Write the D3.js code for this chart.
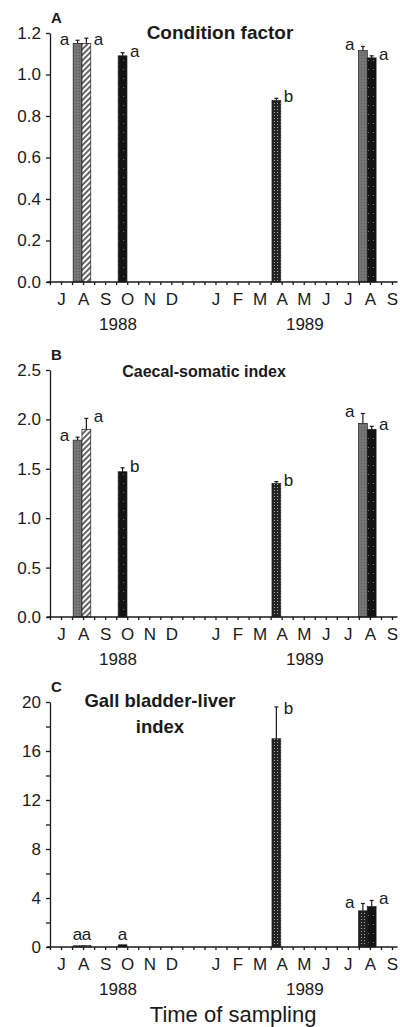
<!DOCTYPE html>
<html>
<head>
<meta charset="utf-8">
<script src="https://cdn.jsdelivr.net/npm/d3@7"></script>
<style>
  body { margin: 0; background: #fff; }
  svg { display: block; font-family: "Liberation Sans", Arial, sans-serif; }
  .axis path, .axis line { stroke: #1a1a1a; stroke-width: 1.3; }
  .axis text { fill: #1a1a1a; font-size: 17px; }
</style>
</head>
<body>
<script>
// Seasonal indices of fish, three stacked panels sharing a month axis.
// Month axis runs Jul 1988 .. Sep 1989 with one empty slot after December.

const MONTHS = ["J", "A", "S", "O", "N", "D", "", "J", "F", "M", "A", "M", "J", "J", "A", "S"];
const YEARS = [{ label: "1988", at: 2.58 }, { label: "1989", at: 11.05 }];

// sampling dates as positions on the month axis
const SAMPLES = { aug88: 0.95, oct88: 2.79, apr89: 9.76, aug89: 13.88 };

// fill: gray = stippled grey, hatch = striped, black = solid, dots = dark stipple
const conditionFactor = [
  { sample: "aug88", fill: "gray", value: 1.15, se: 0.015, letter: "a" },
  { sample: "aug88", fill: "hatch", value: 1.15, se: 0.025, letter: "a" },
  { sample: "oct88", fill: "black", value: 1.09, se: 0.015, letter: "a" },
  { sample: "apr89", fill: "dots", value: 0.875, se: 0.01, letter: "b" },
  { sample: "aug89", fill: "gray", value: 1.115, se: 0.02, letter: "a" },
  { sample: "aug89", fill: "black", value: 1.08, se: 0.01, letter: "a" },
];

const caecalSomatic = [
  { sample: "aug88", fill: "gray", value: 1.79, se: 0.03, letter: "a" },
  { sample: "aug88", fill: "hatch", value: 1.9, se: 0.11, letter: "a" },
  { sample: "oct88", fill: "black", value: 1.47, se: 0.04, letter: "b" },
  { sample: "apr89", fill: "dots", value: 1.35, se: 0.02, letter: "b" },
  { sample: "aug89", fill: "gray", value: 1.96, se: 0.1, letter: "a" },
  { sample: "aug89", fill: "black", value: 1.9, se: 0.03, letter: "a" },
];

const gallBladderLiver = [
  { sample: "aug88", fill: "gray", value: 0.1, se: 0.02, letter: "a" },
  { sample: "aug88", fill: "hatch", value: 0.12, se: 0.02, letter: "a" },
  { sample: "oct88", fill: "black", value: 0.18, se: 0.03, letter: "a" },
  { sample: "apr89", fill: "dots", value: 17.0, se: 2.6, letter: "b" },
  { sample: "aug89", fill: "dots", value: 2.95, se: 0.6, letter: "a" },
  { sample: "aug89", fill: "black", value: 3.3, se: 0.5, letter: "a" },
];

const PANELS = [
  { tag: "A", title: ["Condition factor"], data: conditionFactor, max: 1.2,
    ticks: [0, 0.2, 0.4, 0.6, 0.8, 1.0, 1.2], minor: [], fmt: ".1f" },
  { tag: "B", title: ["Caecal-somatic index"], data: caecalSomatic, max: 2.5,
    ticks: [0, 0.5, 1.0, 1.5, 2.0, 2.5], minor: [], fmt: ".1f" },
  { tag: "C", title: ["Gall bladder-liver", "index"], data: gallBladderLiver, max: 20,
    ticks: [0, 4, 8, 12, 16, 20], minor: [2, 6, 10, 14, 18], fmt: "d" },
];

// layout
const WIDTH = 400, HEIGHT = 1027;
const AXIS_X = 50;
const PANEL_Y = [[282, 33], [617, 370], [947, 702]]; // [baseline, top] per panel
const TITLE_STYLE = [
  { x: 220, dy: 6, size: 19 },
  { x: 204, dy: 7, size: 16 },
  { x: 160, dy: 5, size: 18.5, lead: 26 },
];
const BAR_W = 8.8;

const svg = d3.select("body").append("svg")
  .attr("width", WIDTH).attr("height", HEIGHT);

const defs = svg.append("defs");

const pGray = defs.append("pattern").attr("id", "fill-gray")
  .attr("patternUnits", "userSpaceOnUse").attr("width", 3).attr("height", 3);
pGray.append("rect").attr("width", 3).attr("height", 3).attr("fill", "#767676");
pGray.append("rect").attr("x", 1).attr("y", 1).attr("width", 1).attr("height", 1).attr("fill", "#555");

const pHatch = defs.append("pattern").attr("id", "fill-hatch")
  .attr("patternUnits", "userSpaceOnUse").attr("width", 4).attr("height", 4)
  .attr("patternTransform", "rotate(45)");
pHatch.append("rect").attr("width", 4).attr("height", 4).attr("fill", "#fff");
pHatch.append("line").attr("x1", 1).attr("x2", 1).attr("y1", 0).attr("y2", 4)
  .attr("stroke", "#555").attr("stroke-width", 1.8);

const pBlack = defs.append("pattern").attr("id", "fill-black")
  .attr("patternUnits", "userSpaceOnUse").attr("width", 5).attr("height", 9);
pBlack.append("rect").attr("width", 5).attr("height", 9).attr("fill", "#141414");
pBlack.append("rect").attr("x", 3).attr("y", 6).attr("width", 1).attr("height", 1).attr("fill", "#777");

const pDots = defs.append("pattern").attr("id", "fill-dots")
  .attr("patternUnits", "userSpaceOnUse").attr("width", 3).attr("height", 3);
pDots.append("rect").attr("width", 3).attr("height", 3).attr("fill", "#222");
pDots.append("rect").attr("x", 1).attr("y", 1).attr("width", 1).attr("height", 1).attr("fill", "#aaa");

const x = d3.scaleLinear().domain([0, 15]).range([61, 392]);

PANELS.forEach((panel, i) => {
  const [base, top] = PANEL_Y[i];
  const y = d3.scaleLinear().domain([0, panel.max]).range([base, top]);
  const g = svg.append("g");

  // bars
  const bySample = d3.group(panel.data, (d) => d.sample);
  const bars = [];
  bySample.forEach((rows, key) => {
    const center = x(SAMPLES[key]);
    const start = center - (rows.length * BAR_W) / 2;
    rows.forEach((d, j) => {
      let side = "right";
      if (rows.length > 1 && j === 0) side = "left";
      if (d.value < panel.max * 0.05) side = "top";
      bars.push({ ...d, x0: start + j * BAR_W, side });
    });
  });

  g.selectAll("rect.bar").data(bars).join("rect")
    .attr("class", "bar")
    .attr("x", (d) => d.x0)
    .attr("width", BAR_W)
    .attr("y", (d) => y(d.value))
    .attr("height", (d) => base - y(d.value))
    .attr("fill", (d) => `url(#fill-${d.fill})`)
    .attr("stroke", "#1a1a1a")
    .attr("stroke-width", 0.7);

  // error bars
  const err = g.selectAll("g.err").data(bars.filter((d) => d.value > panel.max * 0.05)).join("g").attr("class", "err");
  err.append("line")
    .attr("x1", (d) => d.x0 + BAR_W / 2).attr("x2", (d) => d.x0 + BAR_W / 2)
    .attr("y1", (d) => y(d.value)).attr("y2", (d) => y(d.value + d.se))
    .attr("stroke", "#1a1a1a").attr("stroke-width", 1.2);
  err.append("line")
    .attr("x1", (d) => d.x0 + BAR_W / 2 - 2).attr("x2", (d) => d.x0 + BAR_W / 2 + 2)
    .attr("y1", (d) => y(d.value + d.se)).attr("y2", (d) => y(d.value + d.se))
    .attr("stroke", "#1a1a1a").attr("stroke-width", 1.2);

  // significance letters
  g.selectAll("text.letter").data(bars).join("text")
    .attr("class", "letter")
    .attr("font-size", 17)
    .attr("fill", "#1a1a1a")
    .attr("text-anchor", (d) => d.side === "left" ? "end" : d.side === "right" ? "start" : "middle")
    .attr("x", (d) => d.side === "left" ? d.x0 - 4 : d.side === "right" ? d.x0 + BAR_W + 3 : d.x0 + BAR_W / 2)
    .attr("y", (d) => d.side === "top" ? base - 7 : Math.max(y(d.value + d.se) + 4, top + 12))
    .text((d) => d.letter);

  // y axis
  const yAxis = d3.axisLeft(y).tickValues(panel.ticks).tickSize(4).tickSizeOuter(0)
    .tickPadding(5).tickFormat(d3.format(panel.fmt));
  g.append("g").attr("class", "axis").attr("transform", `translate(${AXIS_X},0)`).call(yAxis);
  if (panel.minor.length) {
    g.append("g").attr("class", "axis").attr("transform", `translate(${AXIS_X},0)`)
      .call(d3.axisLeft(y).tickValues(panel.minor).tickSize(4).tickFormat(""))
      .select(".domain").remove();
  }

  // x axis: baseline, half-month ticks, month letters
  g.append("line").attr("class", "axisline")
    .attr("x1", x(-0.64)).attr("x2", x(15.25))
    .attr("y1", base).attr("y2", base)
    .attr("stroke", "#1a1a1a").attr("stroke-width", 1.3);
  const halfTicks = d3.range(-0.5, 15.01, 0.5);
  g.append("g").attr("class", "axis").attr("transform", `translate(0,${base})`)
    .call(d3.axisBottom(x).tickValues(halfTicks).tickSize(3).tickFormat(""))
    .select(".domain").remove();
  const monthIdx = d3.range(MONTHS.length).filter((k) => MONTHS[k]);
  g.append("g").attr("class", "axis").attr("transform", `translate(0,${base})`)
    .call(d3.axisBottom(x).tickValues(monthIdx).tickSize(0).tickPadding(11).tickFormat((k) => MONTHS[k]))
    .call((s) => s.select(".domain").remove());

  g.selectAll("text.year").data(YEARS).join("text")
    .attr("class", "year")
    .attr("x", (d) => x(d.at)).attr("y", base + 48)
    .attr("text-anchor", "middle").attr("font-size", 17).attr("fill", "#1a1a1a")
    .text((d) => d.label);

  // panel tag and title
  g.append("text").attr("x", 51).attr("y", top - 10)
    .attr("font-size", 15).attr("font-weight", "bold").attr("fill", "#1a1a1a")
    .text(panel.tag);
  const ts = TITLE_STYLE[i];
  g.selectAll("text.title").data(panel.title).join("text").attr("class", "title")
    .attr("x", ts.x).attr("y", (d, k) => top + ts.dy + k * (ts.lead || 0))
    .attr("text-anchor", "middle").attr("font-size", ts.size).attr("font-weight", "bold").attr("fill", "#1a1a1a")
    .text((d) => d);
});

svg.append("text")
  .attr("x", x(7.8)).attr("y", 1022)
  .attr("text-anchor", "middle").attr("font-size", 22).attr("fill", "#1a1a1a")
  .text("Time of sampling");
</script>
</body>
</html>
